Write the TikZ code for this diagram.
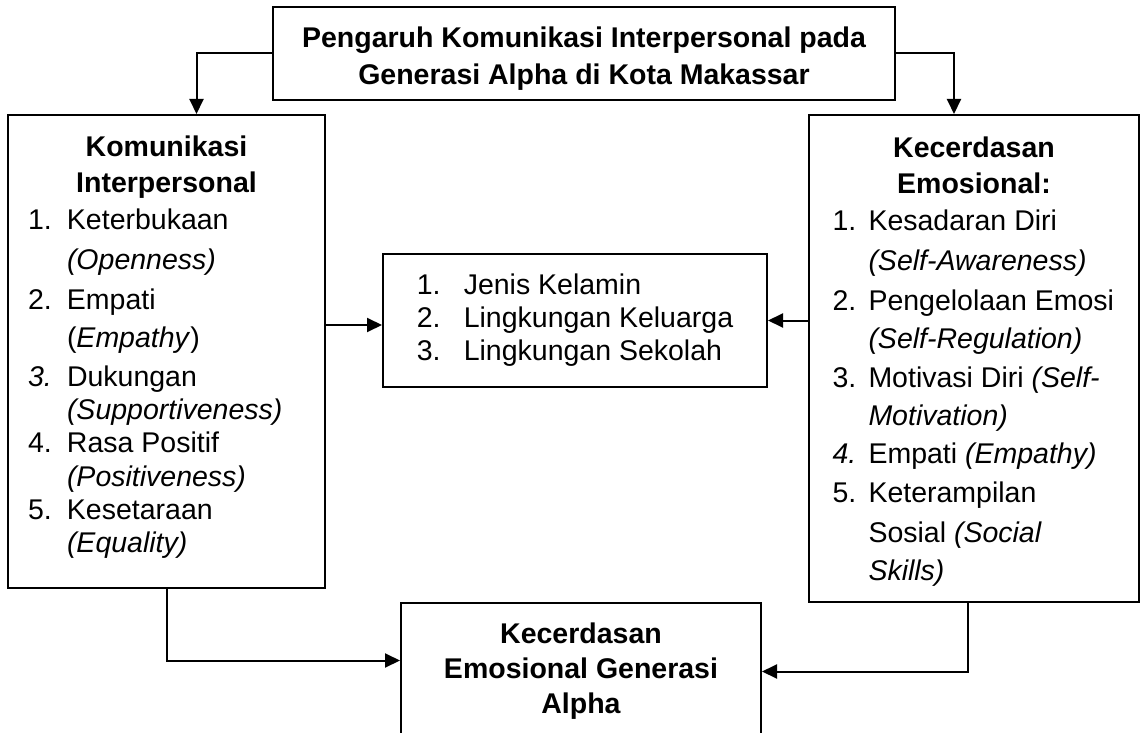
\documentclass[tikz,border=0pt]{standalone}
\usepackage{fontspec}
\setmainfont{Liberation Sans}
\usepackage{tikz}
\usetikzlibrary{positioning, calc, arrows.meta}

\begin{document}
\begin{tikzpicture}[x=1pt, y=-1pt,
		font=\fontsize{28.5}{33}\selectfont,
		kotak/.style={draw, line width=2pt, inner sep=0pt},
		panah/.style={line width=2pt, -{Triangle[length=15pt, width=14pt]}}]
			\useasboundingbox (0, 0) rectangle (1141, 733);
			
			\node[kotak, minimum width=622pt, minimum height=93pt, font=\fontsize{28.5}{37}\selectfont\bfseries] (judul) at (584, 53.5) {\raisebox{-5pt}[\height][\depth]{\begin{tabular}{@{}c@{}}
					Pengaruh Komunikasi Interpersonal pada\\
					Generasi Alpha di Kota Makassar
			\end{tabular}}};
			
			\node[kotak, minimum width=317pt, minimum height=473pt] (interp) at (166.5, 351.5) {\raisebox{4pt}[\height][\depth]{\begin{tabular}{@{}p{39pt}@{}l@{}}
					\multicolumn{2}{@{}c@{}}{\makebox[277pt]{\bfseries Komunikasi}}\\[3pt]
					\multicolumn{2}{@{}c@{}}{\bfseries Interpersonal}\\[4pt]
					1. & Keterbukaan\\[7pt]
					& \textit{(Openness)}\\[7pt]
					2. & Empati\\[5pt]
					& (\textit{Empathy})\\[6pt]
					\textit{3.} & Dukungan\\
					& \textit{(Supportiveness)}\\
					4. & Rasa Positif\\[1pt]
					& \textit{(Positiveness)}\\
					5. & Kesetaraan\\
					& \textit{(Equality)}
			\end{tabular}}};
			
			\node[kotak, minimum width=330pt, minimum height=487pt] (emosi) at (974, 358.5) {\raisebox{-4pt}[\height][\depth]{\begin{tabular}{@{}p{36pt}@{}l@{}}
					\multicolumn{2}{@{}c@{}}{\makebox[283pt]{\bfseries Kecerdasan}}\\[3pt]
					\multicolumn{2}{@{}c@{}}{\bfseries Emosional:}\\[4pt]
					1. & Kesadaran Diri\\[7pt]
					& \textit{(Self-Awareness)}\\[7pt]
					2. & Pengelolaan Emosi\\[5pt]
					& \textit{(Self-Regulation)}\\[6pt]
					3. & Motivasi Diri \textit{(Self-}\\[5pt]
					& \textit{Motivation)}\\[5pt]
					\textit{4.} & Empati \textit{(Empathy)}\\[6pt]
					5. & Keterampilan\\[7pt]
					& Sosial \textit{(Social}\\[5pt]
					& \textit{Skills)}
			\end{tabular}}};
			
			\node[kotak, minimum width=384pt, minimum height=133pt] (faktor) at (575, 320.5) {\begin{tabular}{@{}p{47pt}@{}l@{}}
					1. & Jenis Kelamin\\
					2. & Lingkungan Keluarga\\
					3. & Lingkungan Sekolah
			\end{tabular}};
			
			\node[kotak, minimum width=360pt, minimum height=137pt, align=center, font=\fontsize{28.5}{35}\selectfont\bfseries] (hasil) at (581, 671.5) {Kecerdasan\\Emosional Generasi\\Alpha};
			
			\coordinate (kiri) at ([yshift=-4.5pt]faktor.west);
			
			\draw[panah] (judul.west) -| ([xshift=30pt]interp.north);
			\draw[panah] (judul.east) -| ([xshift=-20pt]emosi.north);
			\draw[panah] (interp.east |- kiri) -- (kiri);
			\draw[panah] (emosi.west |- faktor.east) -- (faktor.east);
			\draw[panah] (interp.south) |- ([yshift=11pt]hasil.west);
			\draw[panah] ([xshift=-6.5pt]emosi.south) |- (hasil.east);
		\end{tikzpicture}
\end{document}
